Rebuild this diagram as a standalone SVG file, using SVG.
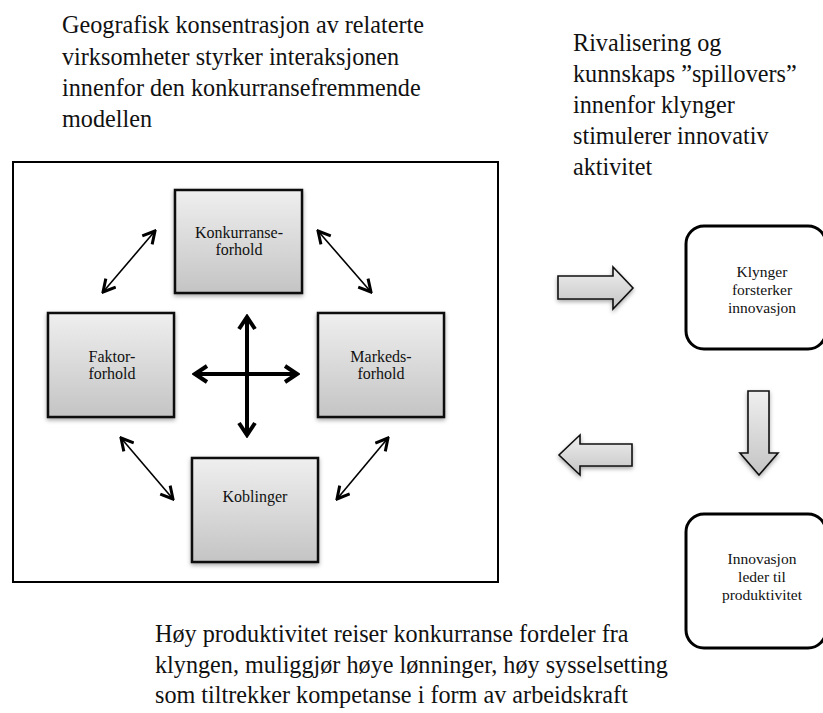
<svg xmlns="http://www.w3.org/2000/svg" width="823" height="713" viewBox="0 0 823 713">
<style>
text{font-family:"Liberation Serif","DejaVu Serif",serif;fill:#111}
.big{font-size:24.2px}
.sm{font-size:16px;text-anchor:middle}
.xs{font-size:15.5px;text-anchor:middle}
.node{fill:url(#g);stroke:#111;stroke-width:2.5;filter:url(#sh)}
.rbox{fill:#fff;stroke:#000;stroke-width:3}
.blk{fill:url(#g);stroke:#111;stroke-width:1.6;filter:url(#sh)}
.thin{stroke:#000;stroke-width:1.6;fill:none;marker-start:url(#vh);marker-end:url(#vh)}
.thick{stroke:#000;stroke-width:4;fill:none;marker-start:url(#vh2);marker-end:url(#vh2)}
</style>
<defs>
<linearGradient id="g" x1="0" y1="0" x2="0" y2="1">
<stop offset="0" stop-color="#efefef"/>
<stop offset="1" stop-color="#c4c4c4"/>
</linearGradient>
<filter id="sh" x="-20%" y="-20%" width="140%" height="140%">
<feDropShadow dx="0" dy="2" stdDeviation="2" flood-color="#000" flood-opacity="0.35"/>
</filter>
<marker id="vh" viewBox="-1 -1 16 16" refX="13" refY="7" markerWidth="16" markerHeight="16" markerUnits="userSpaceOnUse" orient="auto-start-reverse">
<path d="M1,0.5 L13,7 L1,13.5" fill="none" stroke="#000" stroke-width="3"/>
</marker>
<marker id="vh2" viewBox="-1 -1 18 20" refX="14" refY="9" markerWidth="18" markerHeight="20" markerUnits="userSpaceOnUse" orient="auto-start-reverse">
<path d="M2,1 L14,9 L2,17" fill="none" stroke="#000" stroke-width="4"/>
</marker>
</defs>

<g id="text-top-left" class="big">
<text x="62" y="33">Geografisk konsentrasjon av relaterte</text>
<text x="62" y="65">virksomheter styrker interaksjonen</text>
<text x="62" y="96">innenfor den konkurransefremmende</text>
<text x="62" y="127">modellen</text>
</g>
<g id="text-top-right" class="big">
<text x="573" y="51">Rivalisering og</text>
<text x="573" y="82">kunnskaps ”spillovers”</text>
<text x="573" y="113">innenfor klynger</text>
<text x="573" y="144">stimulerer innovativ</text>
<text x="573" y="175">aktivitet</text>
</g>
<g id="text-bottom" class="big">
<text x="155" y="642">Høy produktivitet reiser konkurranse fordeler fra</text>
<text x="155" y="673">klyngen, muliggjør høye lønninger, høy sysselsetting</text>
<text x="155" y="703">som tiltrekker kompetanse i form av arbeidskraft</text>
</g>

<g id="frame"><rect x="13" y="162" width="485" height="420" fill="#fff" stroke="#000" stroke-width="2"/></g>

<g id="node-konkurranse">
<rect class="node" x="175" y="190" width="127" height="103"/>
<text class="sm" x="239" y="238">Konkurranse-</text>
<text class="sm" x="239" y="255">forhold</text>
</g>
<g id="node-faktor">
<rect class="node" x="48" y="313" width="126" height="104"/>
<text class="sm" x="112" y="362">Faktor-</text>
<text class="sm" x="112" y="379">forhold</text>
</g>
<g id="node-markeds">
<rect class="node" x="318" y="313" width="126" height="104"/>
<text class="sm" x="381" y="362">Markeds-</text>
<text class="sm" x="381" y="379">forhold</text>
</g>
<g id="node-koblinger">
<rect class="node" x="192" y="458" width="126" height="104"/>
<text class="sm" x="255" y="502">Koblinger</text>
</g>

<g id="node-klynger">
<rect class="rbox" x="686" y="226" width="140" height="123" rx="18"/>
<text class="xs" x="762" y="277">Klynger</text>
<text class="xs" x="762" y="295">forsterker</text>
<text class="xs" x="762" y="313">innovasjon</text>
</g>
<g id="node-innovasjon">
<rect class="rbox" x="686" y="514" width="140" height="134" rx="18"/>
<text class="xs" x="762" y="564">Innovasjon</text>
<text class="xs" x="762" y="582">leder til</text>
<text class="xs" x="762" y="600">produktivitet</text>
</g>

<g id="connectors">
<line class="thin" x1="103" y1="292" x2="155" y2="231"/>
<line class="thin" x1="318" y1="231" x2="371" y2="292"/>
<line class="thin" x1="121" y1="438" x2="173" y2="499"/>
<line class="thin" x1="388" y1="438" x2="337" y2="499"/>
<line class="thick" x1="247" y1="317" x2="247" y2="435"/>
<line class="thick" x1="195" y1="374" x2="297" y2="374"/>
<path class="blk" d="M558,276 L613,276 L613,267 L633,288 L613,309 L613,299 L558,299 Z"/>
<path class="blk" d="M748,391 L769,391 L769,453 L778,453 L759,475 L740,453 L748,453 Z"/>
<path class="blk" d="M632,444 L580,444 L580,435 L559,455 L580,475 L580,466 L632,466 Z"/>
</g>
</svg>
